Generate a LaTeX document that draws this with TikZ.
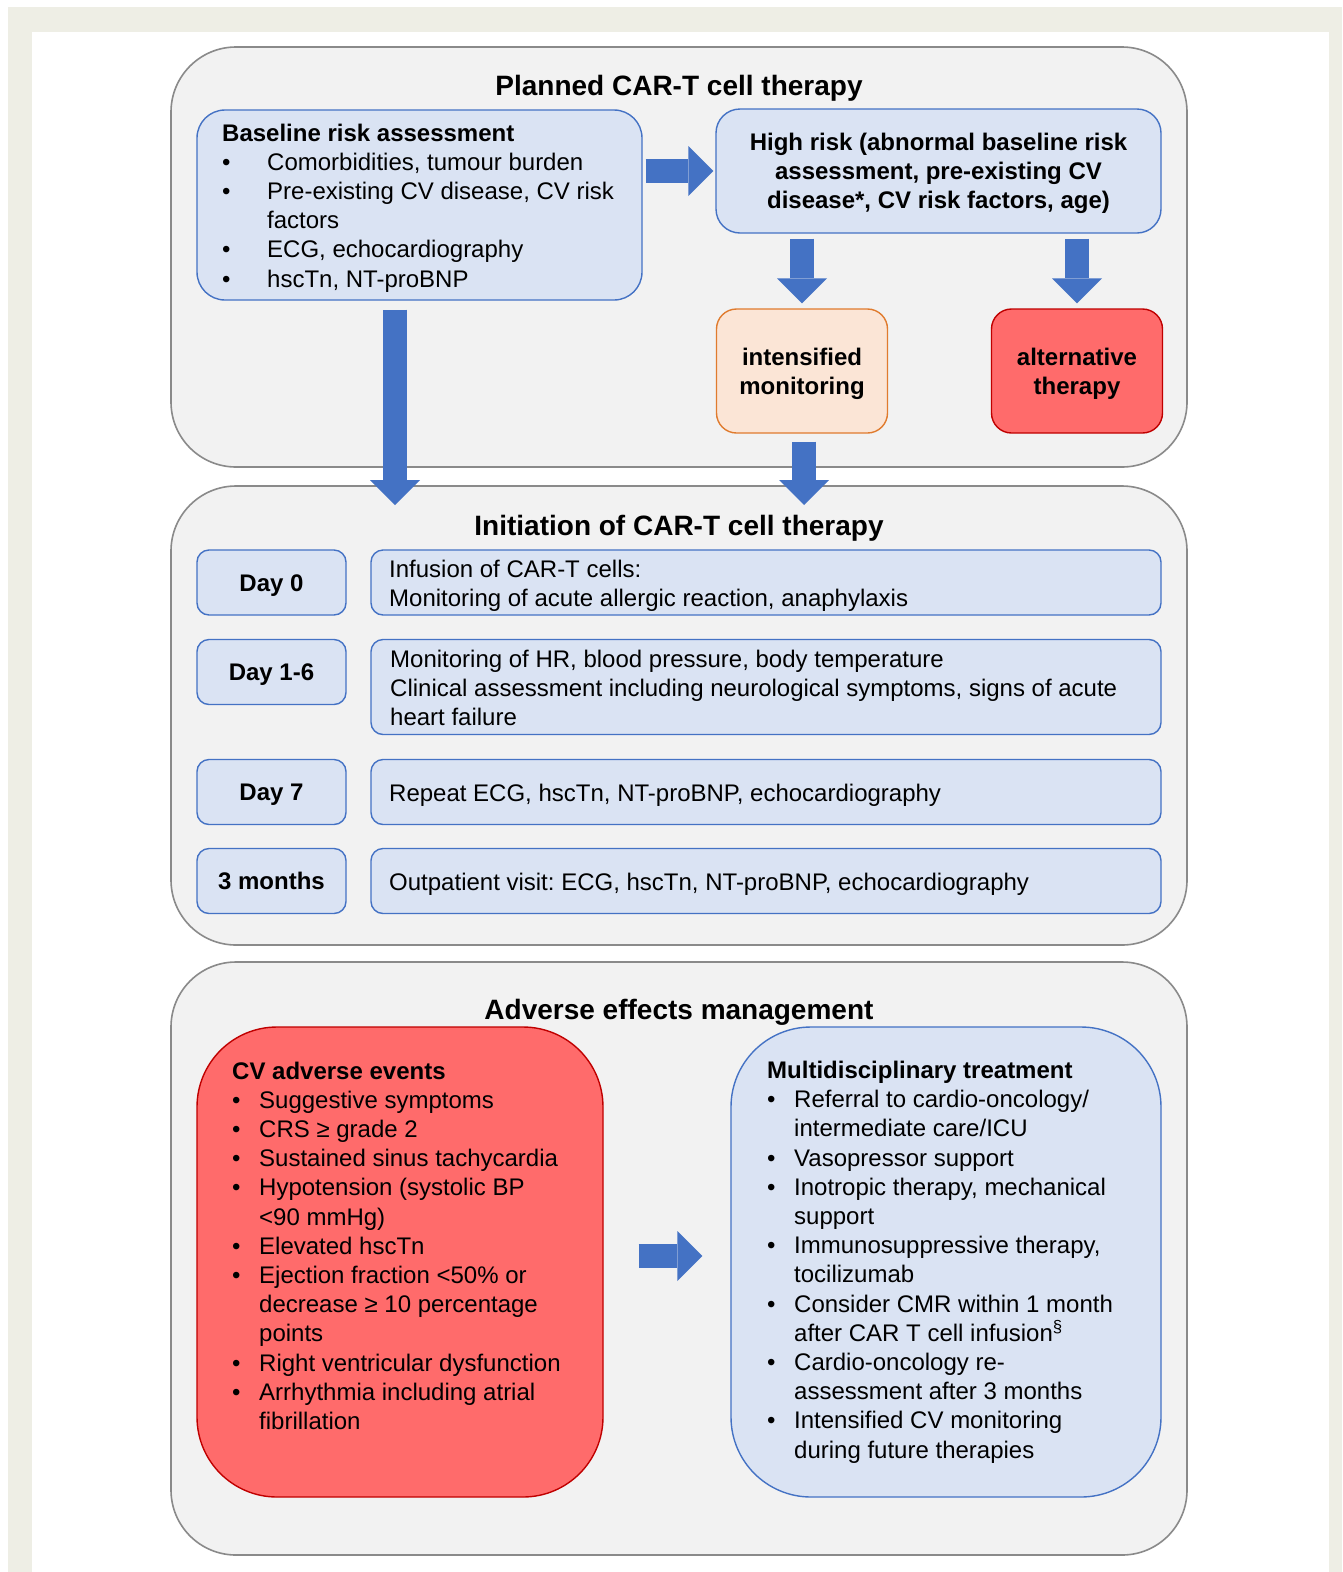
\documentclass[tikz,border=0pt]{standalone}
\usepackage{fontspec}
\setmainfont{Liberation Sans}
\usetikzlibrary{arrows.meta}
\frenchspacing
\definecolor{beige}{HTML}{EEEEE5}
\definecolor{panelfill}{HTML}{F2F2F2}
\definecolor{paneldraw}{HTML}{8A8A8A}
\definecolor{bluefill}{HTML}{DAE3F3}
\definecolor{bluedraw}{HTML}{4472C4}
\definecolor{arrowblue}{HTML}{4472C4}
\definecolor{orangefill}{HTML}{FBE5D6}
\definecolor{orangedraw}{HTML}{E07B2E}
\definecolor{redfill}{HTML}{FF6B6B}
\definecolor{reddraw}{HTML}{C00000}
\newcommand\bl{\makebox[45pt][l]{\textbullet}}
\newcommand\ct{\hspace*{45pt}}
\newcommand\bls{\makebox[27pt][l]{\textbullet}}
\newcommand\cts{\hspace*{27pt}}
\tikzset{
  panel/.style={draw=paneldraw, fill=panelfill, line width=1.6pt, rounded corners=65pt, inner sep=0pt},
  bluebox/.style={draw=bluedraw, fill=bluefill, line width=1.4pt, inner sep=0pt},
  orangebox/.style={draw=orangedraw, fill=orangefill, line width=1.4pt, inner sep=0pt, rounded corners=20pt},
  redbox/.style={draw=reddraw, fill=redfill, line width=1.4pt, inner sep=0pt},
  body/.style={inner sep=0pt, font=\fontsize{24}{29.2}\selectfont},
  txt/.style={body, align=left, anchor=base west},
  ctxt/.style={body, align=center, anchor=base, font=\fontsize{24}{29.2}\selectfont\bfseries},
  title/.style={inner sep=0pt, anchor=base, font=\fontsize{28}{34}\selectfont\bfseries},
  daylabel/.style={bluebox, rounded corners=12pt, minimum width=149pt, minimum height=65pt,
    font=\fontsize{24}{29}\selectfont\bfseries, text height=19pt, text depth=2pt},
  rowbox/.style={bluebox, rounded corners=12pt, minimum width=790pt},
  bigarrow/.style={draw=arrowblue, line width=24pt, -{Triangle[length=25pt,width=50pt,line width=0pt]}}
}
\begin{document}
\begin{tikzpicture}[x=1pt,y=-1pt]
\useasboundingbox (0,0) rectangle (1342,1572);
\fill[beige] (8,7) rectangle (1342,1572);
\fill[white] (32,32) rectangle (1329,1572);

% ---------- Panel 1
\node[panel, minimum width=1016pt, minimum height=420pt] (p1) at (679,257) {};
\node[title] (t1) at (679,95) {Planned CAR-T cell therapy};
\node[bluebox, rounded corners=28pt, minimum width=445pt, minimum height=190pt] (bra) at (419.5,205) {};
\node[txt] (bratxt) at (222,287) {\textbf{Baseline risk assessment}\\
\bl Comorbidities, tumour burden\\
\bl Pre-existing CV disease, CV risk\\
\ct factors\\
\bl ECG, echocardiography\\
\bl hscTn, NT-proBNP};
\node[bluebox, rounded corners=24pt, minimum width=445pt, minimum height=124pt] (hr) at (938.5,171) {};
\node[ctxt] (hrtxt) at (938.5,208.5) {High risk (abnormal baseline risk\\assessment, pre-existing CV\\disease*, CV risk factors, age)};
\node[orangebox, minimum width=171pt, minimum height=124pt] (im) at (802,371) {};
\node[ctxt] (imtxt) at (802,394.5) {intensified\\monitoring};
\node[redbox, rounded corners=20pt, minimum width=171pt, minimum height=124pt] (alt) at (1077,371) {};
\node[ctxt] (alttxt) at (1077,394.5) {alternative\\therapy};

% ---------- Panel 2
\node[panel, minimum width=1016pt, minimum height=459pt] (p2) at (679,715.5) {};
\node[title] (t2) at (679,535) {Initiation of CAR-T cell therapy};
\node[daylabel] (d0) at (271.5,582.5) {Day 0};
\node[daylabel] (d16) at (271.5,672) {Day 1-6};
\node[daylabel] (d7) at (271.5,792) {Day 7};
\node[daylabel] (d3m) at (271.5,881) {3 months};
\node[rowbox, minimum height=65pt] (r0) at (766,582.5) {};
\node[rowbox, minimum height=95pt] (r16) at (766,687) {};
\node[rowbox, minimum height=65pt] (r7) at (766,792) {};
\node[rowbox, minimum height=65pt] (r3m) at (766,881) {};
\node[txt] (r0txt) at (389,606.5) {Infusion of CAR-T cells:\\Monitoring of acute allergic reaction, anaphylaxis};
\node[txt] (r16txt) at (390,725.5) {Monitoring of HR, blood pressure, body temperature\\Clinical assessment including neurological symptoms, signs of acute\\heart failure};
\node[txt] (r7txt) at (389,801) {Repeat ECG, hscTn, NT-proBNP, echocardiography};
\node[txt] (r3mtxt) at (389,890) {Outpatient visit: ECG, hscTn, NT-proBNP, echocardiography};

% ---------- Panel 3
\node[panel, minimum width=1016pt, minimum height=593pt] (p3) at (679,1258.5) {};
\node[title] (t3) at (679,1019) {Adverse effects management};
\node[redbox, rounded corners=80pt, minimum width=406pt, minimum height=470pt] (cv) at (400,1262) {};
\node[txt] (cvtxt) at (232,1429.5) {\textbf{CV adverse events}\\
\bls Suggestive symptoms\\
\bls CRS ≥ grade 2\\
\bls Sustained sinus tachycardia\\
\bls Hypotension (systolic BP\\
\cts <90 mmHg)\\
\bls Elevated hscTn\\
\bls Ejection fraction <50\% or\\
\cts decrease ≥ 10 percentage\\
\cts points\\
\bls Right ventricular dysfunction\\
\bls Arrhythmia including atrial\\
\cts fibrillation};
\node[bluebox, rounded corners=80pt, minimum width=430pt, minimum height=470pt] (mt) at (946,1262) {};
\node[txt] (mttxt) at (767,1458) {\textbf{Multidisciplinary treatment}\\
\bls Referral to cardio-oncology/\\
\cts intermediate care/ICU\\
\bls Vasopressor support\\
\bls Inotropic therapy, mechanical\\
\cts support\\
\bls Immunosuppressive therapy,\\
\cts tocilizumab\\
\bls Consider CMR within 1 month\\
\cts after CAR T cell infusion\textsuperscript{§}\\
\bls Cardio-oncology re-\\
\cts assessment after 3 months\\
\bls Intensified CV monitoring\\
\cts during future therapies};

% ---------- Arrows
\coordinate (a1end) at (395,505);
\coordinate (a2end) at (804,505);
\draw[bigarrow, shorten <=3pt, shorten >=2pt] (bra.east |- hr.west) -- (hr.west);
\draw[bigarrow, shorten <=5pt, shorten >=5pt] (im.north |- hr.south) -- (im.north);
\draw[bigarrow, shorten <=5pt, shorten >=5pt] (alt.north |- hr.south) -- (alt.north);
\draw[bigarrow, shorten <=9pt] (bra.south -| a1end) -- (a1end);
\draw[bigarrow, shorten <=8pt] (im.south -| a2end) -- (a2end);
\draw[bigarrow, shorten <=35pt, shorten >=28pt] ([yshift=6pt]cv.east) -- ([yshift=6pt]mt.west);
\end{tikzpicture}
\end{document}
